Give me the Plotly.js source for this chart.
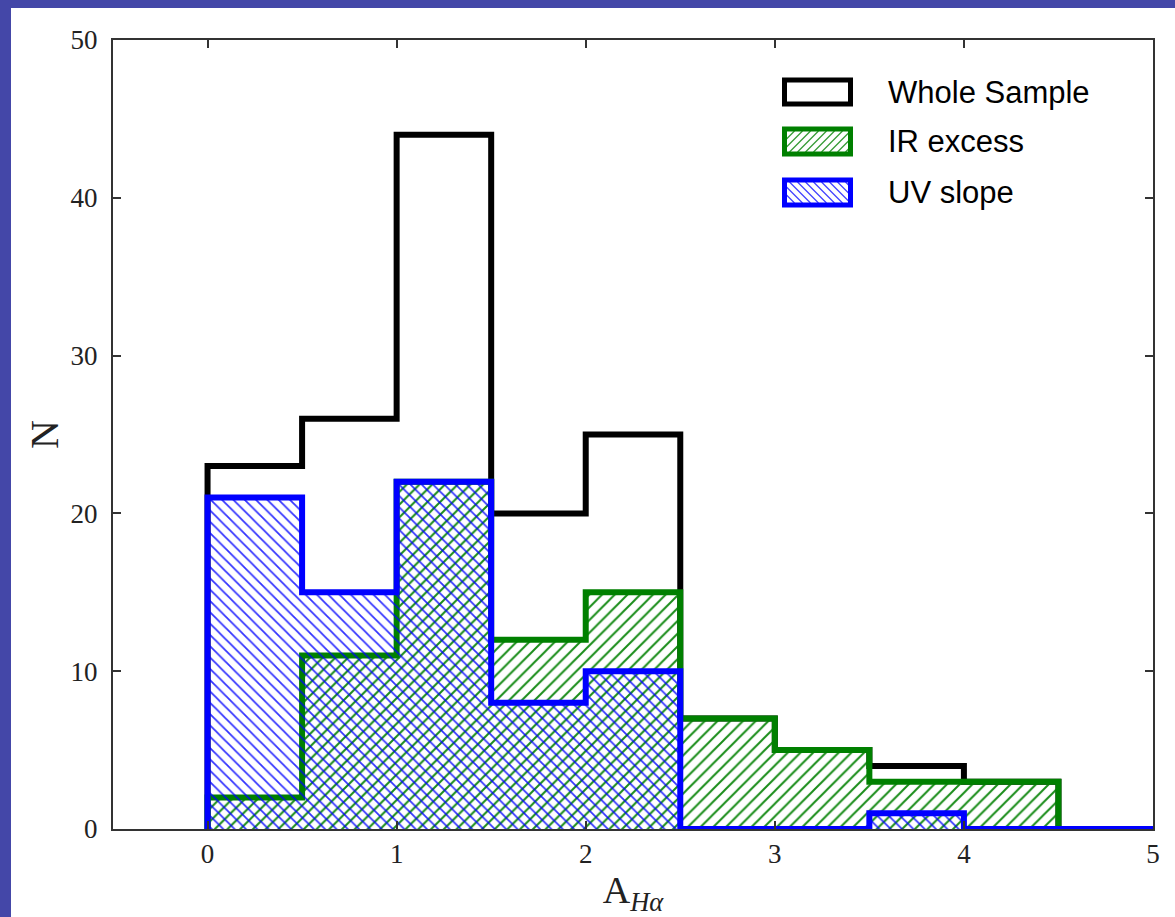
<!DOCTYPE html>
<html>
<head>
<meta charset="utf-8">
<script src="https://cdn.plot.ly/plotly-3.0.1.min.js"></script>
<style>
  html, body { margin: 0; padding: 0; background: rgb(68,71,168); width: 1175px; height: 917px; overflow: hidden; }
  #plot { position: absolute; left: 11px; top: 8px; width: 1164px; height: 909px; background: #fff; }
</style>
</head>
<body>
<div id="plot"></div>
<script>
// ---- data ----
const binEdges = [0, 0.5, 1, 1.5, 2, 2.5, 3, 3.5, 4, 4.5, 5];
const wholeSample = [23, 26, 44, 20, 25, 7, 5, 4, 3, 0];
const irExcess = [2, 11, 22, 12, 15, 7, 5, 3, 3, 0];
const uvSlope = [21, 15, 22, 8, 10, 0, 0, 1, 0, 0];
const seriesNames = ['Whole Sample', 'IR excess', 'UV slope'];
const xTickVals = [0, 1, 2, 3, 4, 5];
const yTickVals = [0, 10, 20, 30, 40, 50];

function stepX(edges) { return [edges[0]].concat(edges); }
function stepY(counts) { return [0].concat(counts, [counts[counts.length - 1]]); }

const BLACK = '#000000', GREEN = '#008000', BLUE = '#0000ff';

const traces = [
  {
    type: 'scatter', mode: 'lines', name: seriesNames[0],
    x: stepX(binEdges), y: stepY(wholeSample),
    line: { shape: 'hv', color: BLACK, width: 6 },
    showlegend: false, hoverinfo: 'skip'
  },
  {
    type: 'scatter', mode: 'lines', name: seriesNames[1],
    x: stepX(binEdges), y: stepY(irExcess),
    line: { shape: 'hv', color: GREEN, width: 6 },
    fill: 'tozeroy', fillcolor: 'rgba(0,0,0,0)',
    fillpattern: { shape: '/', fgcolor: 'rgba(0,128,0,0.9)', bgcolor: 'rgba(0,0,0,0)', size: 9, solidity: 0.22 },
    showlegend: false, hoverinfo: 'skip'
  },
  {
    type: 'scatter', mode: 'lines', name: seriesNames[2],
    x: stepX(binEdges), y: stepY(uvSlope),
    line: { shape: 'hv', color: BLUE, width: 6 },
    fill: 'tozeroy', fillcolor: 'rgba(0,0,0,0)',
    fillpattern: { shape: '\\', fgcolor: 'rgba(0,0,255,0.8)', bgcolor: 'rgba(0,0,0,0)', size: 8, solidity: 0.22 },
    showlegend: false, hoverinfo: 'skip'
  }
];

// ---- manual legend (paper coordinates from plot-area pixels) ----
const PL = 113, PR = 1153, PT = 40, PB = 829;
const px = v => (v - PL) / (PR - PL);
const py = v => (PB - v) / (PB - PT);

const shapes = [];
const annotations = [];
const legendRows = [
  { name: seriesNames[0], color: BLACK, y0: 80, y1: 104, hatch: null },
  { name: seriesNames[1], color: GREEN, y0: 129, y1: 154, hatch: '/' , hcolor: 'rgba(0,128,0,0.8)'},
  { name: seriesNames[2], color: BLUE, y0: 180, y1: 205, hatch: '\\', hcolor: 'rgba(0,0,255,0.75)' }
];
const LX0 = 784.5, LX1 = 850.5;

function hatchLines(x0, x1, y0, y1, step, dir, color) {
  const out = [];
  const h = y1 - y0;
  for (let c = x0 - h; c < x1 + h; c += step) {
    let ax, ay, bx, by;
    if (dir === '/') { ax = c; ay = y1; bx = c + h; by = y0; }
    else { ax = c; ay = y0; bx = c + h; by = y1; }
    const t0 = Math.max(0, (x0 - ax) / (bx - ax));
    const t1 = Math.min(1, (x1 - ax) / (bx - ax));
    if (t1 <= t0) continue;
    const sx = ax + (bx - ax) * t0, sy = ay + (by - ay) * t0;
    const ex = ax + (bx - ax) * t1, ey = ay + (by - ay) * t1;
    out.push({ type: 'line', xref: 'paper', yref: 'paper', x0: px(sx), y0: py(sy), x1: px(ex), y1: py(ey),
      line: { color: color, width: 1.3 }, layer: 'above' });
  }
  return out;
}

legendRows.forEach(r => {
  if (r.hatch) {
    hatchLines(LX0 + 2, LX1 - 2, r.y0 + 2, r.y1 - 2, 8, r.hatch, r.hcolor).forEach(s => shapes.push(s));
  }
  shapes.push({ type: 'rect', xref: 'paper', yref: 'paper', x0: px(LX0), x1: px(LX1), y0: py(r.y1), y1: py(r.y0),
    line: { color: r.color, width: 5 }, fillcolor: 'rgba(0,0,0,0)', layer: 'above' });
  annotations.push({ xref: 'paper', yref: 'paper', x: px(886), y: py((r.y0 + r.y1) / 2), xanchor: 'left', yanchor: 'middle',
    text: r.name, showarrow: false, font: { family: 'Liberation Sans, Arial, sans-serif', size: 31, color: '#000' } });
});

const tickFont = { family: 'Liberation Serif, Times New Roman, serif', size: 27, color: '#222' };

const layout = {
  width: 1164, height: 909,
  margin: { l: 102, r: 22, t: 32, b: 88, pad: 0 },
  paper_bgcolor: '#ffffff', plot_bgcolor: '#ffffff',
  showlegend: false,
  xaxis: {
    range: [-0.5, 5], tickvals: xTickVals, ticktext: xTickVals.map(String),
    ticks: 'inside', ticklen: 8, tickwidth: 2, tickcolor: '#333',
    showline: true, linecolor: '#333', linewidth: 2, mirror: 'ticks',
    showgrid: false, zeroline: false, tickfont: tickFont, ticklabelstandoff: 0,
    title: { text: 'A<sub><i>Hα</i></sub>', font: { family: 'Liberation Serif, Times New Roman, serif', size: 38, color: '#222' }, standoff: 14 }
  },
  yaxis: {
    range: [0, 50], tickvals: yTickVals, ticktext: yTickVals.map(String),
    ticks: 'inside', ticklen: 8, tickwidth: 2, tickcolor: '#333',
    showline: true, linecolor: '#333', linewidth: 2, mirror: 'ticks',
    showgrid: false, zeroline: false, tickfont: tickFont, ticklabelstandoff: 8,
    title: { text: 'N', font: { family: 'Liberation Serif, Times New Roman, serif', size: 40, color: '#222' }, standoff: 0 }
  },
  shapes: shapes,
  annotations: annotations
};

Plotly.newPlot('plot', traces, layout, { staticPlot: true, displayModeBar: false });
</script>
</body>
</html>
